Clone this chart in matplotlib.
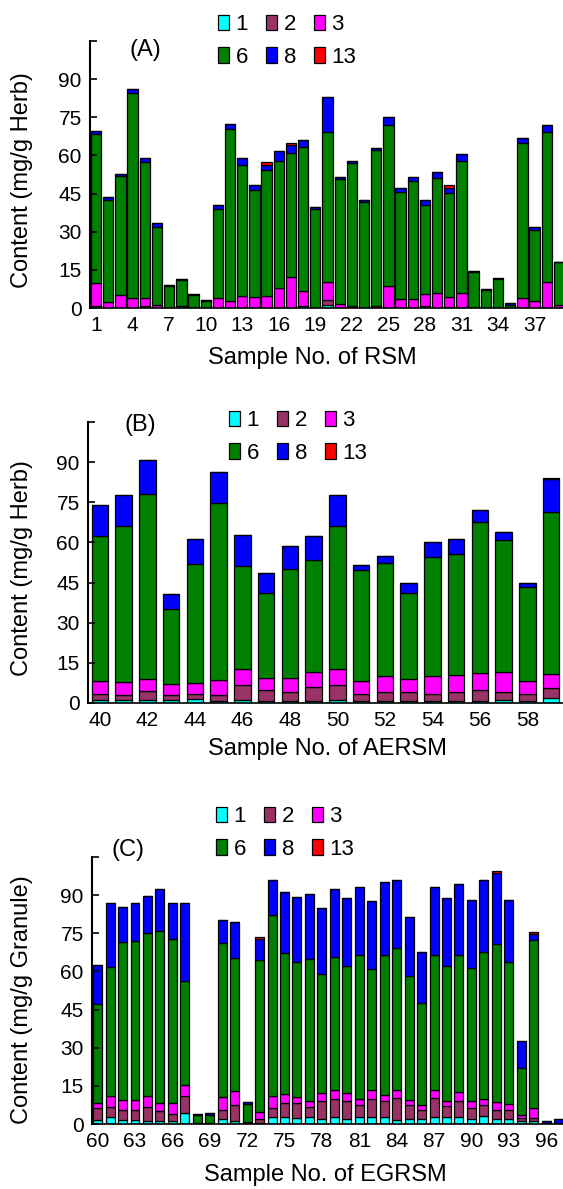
import matplotlib
matplotlib.use("Agg")
import matplotlib.pyplot as plt
import numpy as np

plt.rcParams["font.family"] = ["Liberation Sans", "DejaVu Sans"]

# component order in each stack (bottom -> top)
COMPONENTS = ["1", "2", "3", "6", "8", "13"]
COLORS = ["#00FFFF", "#993366", "#FF00FF", "#008000", "#0000FF", "#FF0000"]

# ---- (A) RSM, samples 1-39 (mg/g Herb) ----
a_samples = list(range(1, 40))
a_c1 = [0.8, 0, 0, 0, 0, 0, 0, 0, 0, 0, 0, 0, 0, 0, 0, 0, 0, 0.7, 0, 1.0,
        0, 0, 0, 0, 0, 0, 0, 0, 0, 0, 0, 0, 0, 0, 0, 0, 0, 0, 0]
a_c2 = [0, 0, 0, 0, 0.6, 0, 0, 0, 0, 0, 0, 0, 0, 0, 0, 0, 0, 0, 0, 2.2,
        0, 0, 0, 0, 0, 0, 0, 0.9, 0, 0.5, 0, 0, 0, 0, 0, 0, 0, 0, 0]
a_c3 = [9.2, 2.5, 5.3, 4.0, 3.4, 1.2, 0, 0.8, 0, 0, 4.0, 2.8, 4.8, 4.5, 4.8,
        8.0, 12.2, 6.1, 0, 7.2, 1.6, 0.7, 0, 0.7, 8.6, 3.4, 3.7, 4.5, 5.8,
        4.0, 5.8, 0, 0, 0, 0, 3.9, 2.7, 10.3, 1.1]
a_c6 = [58.3, 40.0, 46.7, 80.4, 53.5, 30.6, 8.7, 10.3, 5.3, 2.9, 35.0, 67.4,
        51.4, 42.0, 49.6, 49.9, 48.7, 56.5, 38.8, 58.9, 49.2, 56.2, 41.8,
        61.3, 63.2, 42.4, 46.4, 35.3, 45.3, 40.9, 52.1, 14.1, 7.2, 11.5,
        1.3, 60.9, 28.0, 59.1, 16.8]
a_c8 = [1.2, 1.0, 0.7, 1.6, 1.3, 1.5, 0.3, 0.3, 0.2, 0.2, 1.6, 2.0, 2.6, 1.7,
        2.0, 3.9, 3.2, 2.6, 0.9, 13.6, 0.6, 1.0, 0.7, 0.8, 3.3, 1.3, 1.6,
        1.8, 2.4, 1.6, 2.5, 0.5, 0.3, 0.4, 0.5, 1.9, 1.3, 2.6, 0.3]
a_c13 = [0, 0, 0, 0, 0, 0, 0, 0, 0, 0, 0, 0, 0, 0, 0.9, 0, 0.9, 0, 0, 0,
         0, 0, 0, 0, 0, 0, 0, 0, 0, 1.2, 0, 0, 0, 0, 0, 0, 0, 0, 0]

# ---- (B) AERSM, samples 40-59 (mg/g Herb) ----
b_samples = list(range(40, 60))
b_c1 = [1.0, 1.2, 1.2, 1.0, 1.5, 0.9, 1.2, 0.8, 0.8, 0.8, 1.2, 0.8, 0.8,
        0.8, 0.8, 0.8, 0.8, 1.2, 0.8, 1.7]
b_c2 = [2.4, 1.9, 3.2, 2.1, 1.9, 2.2, 5.4, 4.2, 3.3, 5.1, 5.4, 2.6, 3.3,
        3.3, 2.6, 3.3, 4.2, 2.9, 2.6, 3.9]
b_c3 = [4.7, 4.7, 4.4, 4.0, 4.1, 5.4, 6.2, 4.4, 5.3, 5.6, 6.2, 4.7, 5.9,
        5.0, 6.8, 6.5, 6.2, 7.5, 5.0, 5.4]
b_c6 = [54.2, 58.2, 69.2, 27.9, 44.5, 66.2, 38.4, 31.6, 40.8, 41.8, 53.2,
        41.6, 42.2, 32.1, 44.4, 44.9, 56.4, 49.4, 35.1, 60.3]
b_c8 = [11.6, 11.6, 12.9, 5.9, 9.2, 11.6, 11.6, 7.5, 8.4, 9.2, 11.6, 2.0,
        2.7, 3.5, 5.4, 5.7, 4.4, 2.8, 1.2, 12.4]
b_c13 = [0, 0, 0, 0, 0, 0, 0, 0, 0, 0, 0, 0, 0, 0, 0, 0, 0, 0, 0, 0.5]

# ---- (C) EGRSM, samples 60-97 (mg/g Granule) ----
c_samples = list(range(60, 98))
c_c1 = [1.6, 2.6, 1.6, 1.6, 1.0, 1.0, 1.0, 4.4, 0, 0, 1.8, 1.0, 0, 0.5,
        2.6, 2.6, 2.3, 2.6, 1.8, 2.9, 1.8, 2.6, 2.9, 2.6, 1.6, 1.8, 2.0,
        2.6, 2.6, 2.6, 2.0, 3.0, 2.0, 2.0, 1.0, 1.0, 0, 0]
c_c2 = [4.5, 4.2, 3.9, 3.9, 5.8, 4.2, 2.8, 6.7, 0.3, 0.3, 3.7, 6.4, 0.5,
        1.3, 3.8, 5.5, 5.8, 4.2, 7.3, 7.1, 7.3, 4.8, 7.1, 6.5, 8.8, 5.6,
        3.6, 7.6, 4.3, 6.6, 4.3, 4.3, 3.4, 3.4, 1.4, 1.4, 0, 0]
c_c3 = [2.2, 4.2, 3.9, 3.9, 4.2, 3.1, 4.3, 4.2, 0, 0, 5.2, 5.5, 0.4, 3.0,
        4.6, 3.6, 2.6, 2.3, 2.9, 3.3, 2.9, 2.4, 3.3, 2.2, 2.9, 2.0, 2.0,
        3.3, 2.3, 3.2, 2.9, 2.5, 3.2, 2.4, 1.3, 3.9, 0, 0]
c_c6 = [38.8, 50.7, 62.1, 62.5, 64.0, 67.7, 64.7, 40.8, 3.3, 3.2, 60.5,
        52.3, 7.0, 59.5, 71.0, 55.6, 52.9, 55.6, 47.1, 52.3, 50.0, 56.7,
        47.8, 55.2, 55.8, 48.8, 40.0, 53.0, 52.8, 54.1, 52.1, 57.8, 62.0,
        55.9, 18.3, 66.0, 0.3, 0.4]
c_c8 = [15.6, 25.4, 13.7, 14.9, 14.7, 16.3, 14.3, 31.0, 0.3, 0.7, 9.1, 14.1,
        0.9, 8.5, 14.1, 24.1, 25.7, 25.9, 25.8, 27.0, 26.9, 26.8, 26.7,
        28.7, 27.0, 23.3, 20.0, 26.8, 26.9, 27.7, 26.9, 28.5, 28.2, 24.5,
        10.8, 2.3, 1.0, 1.5]
c_c13 = [0, 0, 0, 0, 0, 0, 0, 0, 0, 0, 0, 0, 0, 0.9, 0, 0, 0, 0, 0, 0, 0,
         0, 0, 0, 0, 0, 0, 0, 0, 0, 0, 0, 0.5, 0, 0, 0.8, 0, 0]

W, H = 563, 1189


def fig_rect(left, top, right, bottom):
    """Pixel box -> figure-fraction [l, b, w, h]."""
    return [left / W, 1 - bottom / H, (right - left) / W, (bottom - top) / H]


def draw_panel(fig, rect, samples, comps, xlim, xticks, bar_w, tag,
               xlabel, ylabel, leg_xy, tag_xy, xlab_xy, ylab_y):
    ax = fig.add_axes(rect)
    x = np.array(samples)
    bottom = np.zeros(len(samples))
    bars = []
    for name, vals, col in zip(COMPONENTS, comps, COLORS):
        vals = np.array(vals, dtype=float)
        b = ax.bar(x, vals, bar_w, bottom=bottom, color=col,
                   edgecolor="black", linewidth=0.9, label=name)
        bars.append(b)
        bottom += vals

    ax.set_xlim(*xlim)
    ax.set_ylim(0, 105)
    ax.set_yticks(range(0, 106, 15))
    ax.set_yticklabels([str(v) for v in range(0, 91, 15)] + [""])
    ax.set_xticks(xticks)
    ax.tick_params(axis="y", direction="in", length=5, width=1.2,
                   labelsize=15, pad=6)
    ax.tick_params(axis="x", length=0, labelsize=15, pad=6)
    for s in ("top", "right"):
        ax.spines[s].set_visible(False)
    ax.spines["left"].set_linewidth(1.5)
    ax.spines["bottom"].set_linewidth(1.2)

    # axis titles placed by pixel position of the reference
    l, b0, w, h = rect
    ax.set_xlabel(xlabel, fontsize=17)
    ax.xaxis.set_label_coords((xlab_xy[0] / W - l) / w,
                              ((1 - xlab_xy[1] / H) - b0) / h)
    ax.set_ylabel(ylabel, fontsize=17, va="center")
    ax.yaxis.set_label_coords((22 / W - l) / w, ((1 - ylab_y / H) - b0) / h)

    fig.text(tag_xy[0] / W, 1 - tag_xy[1] / H, tag, fontsize=17,
             ha="center", va="center")

    # ncol=3 fills column-wise: rows become 1 2 3 / 6 8 13
    order = [0, 3, 1, 4, 2, 5]
    fig.legend([bars[i] for i in order], [COMPONENTS[i] for i in order],
               ncol=3, frameon=False, fontsize=16, loc="center",
               bbox_to_anchor=(leg_xy[0] / W, 1 - leg_xy[1] / H),
               handlelength=0.5, handleheight=0.7, handletextpad=0.3,
               columnspacing=0.8, labelspacing=0.5, borderpad=0.1)
    return ax


fig = plt.figure(figsize=(W / 100, H / 100), dpi=100)

draw_panel(fig, fig_rect(90, 41, 565, 308), a_samples,
           [a_c1, a_c2, a_c3, a_c6, a_c8, a_c13], (0.5, 39.5),
           list(range(1, 38, 3)), 0.85, "(A)", "Sample No. of RSM",
           "Content (mg/g Herb)", (287, 41), (145, 50), (312, 347), 180)

draw_panel(fig, fig_rect(88, 422, 563, 703), b_samples,
           [b_c1, b_c2, b_c3, b_c6, b_c8, b_c13], (39.5, 59.5),
           list(range(40, 59, 2)), 0.7, "(B)", "Sample No. of AERSM",
           "Content (mg/g Herb)", (298, 437), (140, 425), (327, 738), 568)

draw_panel(fig, fig_rect(92, 857, 563, 1124), c_samples,
           [c_c1, c_c2, c_c3, c_c6, c_c8, c_c13], (59.55, 97.35),
           list(range(60, 97, 3)), 0.72, "(C)", "Sample No. of EGRSM",
           "Content (mg/g Granule)", (285, 833), (128, 850), (325, 1164),
           1000)

fig.savefig("out.png", dpi=100)
